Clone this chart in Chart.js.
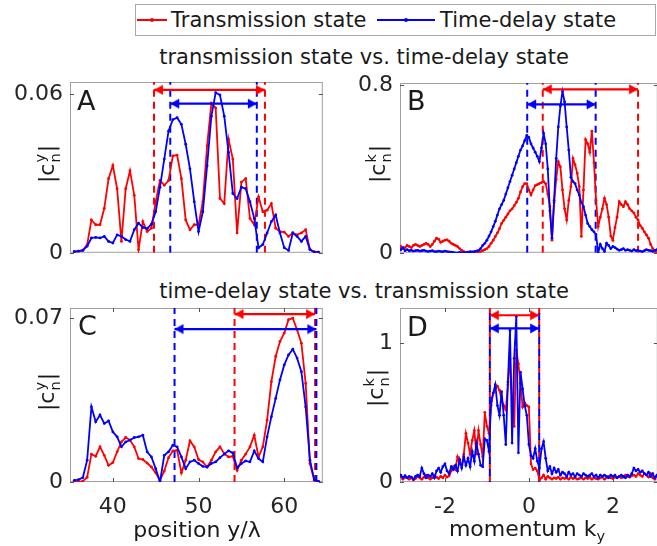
<!DOCTYPE html>
<html>
<head>
<meta charset="utf-8">
<script src="https://cdn.jsdelivr.net/npm/chart.js@4.4.1/dist/chart.umd.min.js"></script>
<style>
  body { margin: 0; background: #fff; overflow: hidden; font-family: "DejaVu Sans", sans-serif; color: #1a1a1a; }
  #fig { position: relative; width: 657px; height: 546px; overflow: hidden; }
  .cv { position: absolute; }
  .t { position: absolute; white-space: nowrap; line-height: 1; }
  .title { font-size: 21px; transform: translateX(-50%); }
  .lab { font-size: 27px; }
  .ylab { font-size: 22px; transform: translate(-50%, -50%) rotate(-90deg); }
  .xlab { font-size: 22px; transform: translateX(-50%); }
  .ss { display: inline-flex; flex-direction: column; font-size: 0.66em; line-height: 1.05; vertical-align: middle; margin: 0 1px; }
  sub { font-size: 0.66em; }
  #legend { position: absolute; left: 135px; top: 4px; width: 519px; height: 30px; border: 1px solid #a8a8a8; }
  .ln { position: absolute; height: 2px; top: 19px; }
  .dot { position: absolute; width: 4px; height: 4px; border-radius: 2px; top: 18px; }
</style>
</head>
<body>
<div id="fig">
  <div id="legend"></div>
  <div class="ln" style="left:137px;width:30px;background:#ff0000"></div>
  <div class="dot" style="left:150px;background:#ff0000"></div>
  <div class="t" style="left:171px;top:10px;font-size:21px">Transmission state</div>
  <div class="ln" style="left:377px;width:58px;background:#0000ff"></div>
  <div class="dot" style="left:404px;background:#0000ff"></div>
  <div class="t" style="left:440px;top:10px;font-size:21px">Time-delay state</div>

  <div class="t title" style="left:364px;top:47px">transmission state vs. time-delay state</div>
  <div class="t title" style="left:364px;top:281px">time-delay state vs. transmission state</div>

  <canvas id="cA" class="cv" width="330" height="188" style="left:0;top:72px"></canvas>
  <canvas id="cB" class="cv" width="335" height="188" style="left:330px;top:72px"></canvas>
  <canvas id="cC" class="cv" width="330" height="246" style="left:0;top:300px"></canvas>
  <canvas id="cD" class="cv" width="335" height="246" style="left:330px;top:300px"></canvas>

  <div class="t lab" style="left:77px;top:87px">A</div>
  <div class="t lab" style="left:407px;top:87px">B</div>
  <div class="t lab" style="left:78px;top:312px">C</div>
  <div class="t lab" style="left:407px;top:313px">D</div>

  <div class="t ylab" style="left:48px;top:164px">|c<span class="ss"><span>y</span><span>n</span></span>|</div>
  <div class="t ylab" style="left:379px;top:164px">|c<span class="ss"><span>k</span><span>n</span></span>|</div>
  <div class="t ylab" style="left:48px;top:392px">|c<span class="ss"><span>y</span><span>n</span></span>|</div>
  <div class="t ylab" style="left:377px;top:388px">|c<span class="ss"><span>k</span><span>n</span></span>|</div>

  <div class="t xlab" style="left:197px;top:519px">position y/λ</div>
  <div class="t xlab" style="left:527px;top:518px">momentum k<sub>y</sub></div>
</div>

<script>
// position grid (panels A, C) and momentum grid (panels B, D)
const posY = [35.5,36,36.5,37,37.5,38,38.5,39,39.5,40,40.5,41,41.5,42,42.5,43,43.5,44,44.5,45,
  45.5,46,46.5,47,47.5,48,48.5,49,49.5,50,50.5,51,51.5,52,52.5,53,53.5,54,54.5,55,
  55.5,56,56.5,57,57.5,58,58.5,59,59.5,60,60.5,61,61.5,62,62.5,63,63.5,64];

const ky = [-3.1,-3.05,-3,-2.95,-2.9,-2.85,-2.8,-2.75,-2.7,-2.65,
  -2.6,-2.55,-2.5,-2.45,-2.4,-2.35,-2.3,-2.25,-2.2,-2.15,
  -2.1,-2.05,-2,-1.95,-1.9,-1.85,-1.8,-1.75,-1.7,-1.65,
  -1.6,-1.55,-1.5,-1.45,-1.4,-1.35,-1.3,-1.25,-1.2,-1.15,
  -1.1,-1.05,-1,-0.95,-0.9,-0.85,-0.8,-0.75,-0.7,-0.65,
  -0.6,-0.55,-0.5,-0.45,-0.4,-0.35,-0.3,-0.25,-0.2,-0.15,
  -0.1,-0.05,0,0.05,0.1,0.15,0.2,0.25,0.3,0.35,
  0.4,0.45,0.5,0.55,0.6,0.65,0.7,0.75,0.8,0.85,
  0.9,0.95,1,1.05,1.1,1.15,1.2,1.25,1.3,1.35,
  1.4,1.45,1.5,1.55,1.6,1.65,1.7,1.75,1.8,1.85,
  1.9,1.95,2,2.05,2.1,2.15,2.2,2.25,2.3,2.35,
  2.4,2.45,2.5,2.55,2.6,2.65,2.7,2.75,2.8,2.85,
  2.9,2.95,3,3.05,3.1];

// A: transmission state vs time-delay state, |c_n^y|
const redA = [0.0004,0.0006,0.001,0.003,0.0124,0.0106,0.0106,0.0168,0.028,0.033,
  0.0242,0.0043,0.0242,0.031,0.0217,0.0012,0.0118,0.008,0.0093,0.0193,
  0.0273,0.0255,0.0273,0.0366,0.0369,0.028,0.0124,0.0087,0.0106,0.0106,
  0.0193,0.0404,0.0565,0.0547,0.0205,0.0186,0.0429,0.0354,0.0075,0.0267,
  0.028,0.013,0.0106,0.0211,0.0155,0.0161,0.0186,0.0093,0.008,0.0078,
  0.0062,0.0075,0.0068,0.0075,0.0087,0.0012,0.0004,0.0002];
const blueA = [0.0004,0.0006,0.0009,0.0025,0.0056,0.0058,0.0056,0.0062,0.0043,0.0037,
  0.0068,0.0062,0.005,0.0043,0.0087,0.0112,0.0096,0.0091,0.0108,0.0155,
  0.0248,0.0354,0.046,0.0503,0.051,0.0485,0.041,0.0317,0.0193,0.008,
  0.0155,0.0329,0.0516,0.0605,0.0596,0.0516,0.0379,0.0224,0.0205,0.0248,
  0.0242,0.0193,0.013,0.0019,0.0031,0.0075,0.0118,0.0143,0.0075,0.0019,
  0.0009,0.0075,0.0062,0.0043,0.0062,0.0012,0.0002,0.0002];

// B: |c_n^k|
const redB = [0.02,0.03,0.02,0.025,0.035,0.03,0.025,0.035,0.04,0.035,
  0.03,0.035,0.04,0.045,0.04,0.03,0.04,0.055,0.07,0.065,
  0.05,0.055,0.06,0.062,0.055,0.045,0.04,0.035,0.03,0.02,
  0.012,0.005,0.002,0,0.002,0,0.003,0.005,0.004,0.006,
  0.01,0.015,0.02,0.03,0.045,0.06,0.078,0.095,0.115,0.14,
  0.155,0.17,0.185,0.2,0.21,0.225,0.24,0.26,0.29,0.315,
  0.33,0.33,0.3,0.276,0.3,0.32,0.325,0.33,0.335,0.34,
  0.33,0.28,0.22,0.06,0.24,0.35,0.435,0.41,0.3,0.21,
  0.157,0.25,0.316,0.45,0.42,0.38,0.316,0.078,0.3,0.54,
  0.52,0.48,0.58,0.43,0.25,0.125,0.17,0.21,0.26,0.23,
  0.17,0.08,0.06,0.12,0.17,0.244,0.23,0.22,0.244,0.23,
  0.21,0.2,0.19,0.17,0.157,0.13,0.117,0.1,0.085,0.07,
  0.04,0.02,0.006,0.005,0.004];
const blueB = [0.02,0.015,0.025,0.01,0.015,0.01,0.012,0.008,0.01,0.012,
  0.008,0.01,0.012,0.008,0.006,0.008,0.01,0.006,0.005,0.008,
  0.006,0.005,0.008,0.006,0.004,0.003,0.002,0,0,0.002,
  0,0.002,0,0.003,0.005,0.004,0.006,0.008,0.012,0.02,
  0.035,0.045,0.06,0.08,0.1,0.125,0.15,0.18,0.21,0.23,
  0.25,0.28,0.31,0.34,0.37,0.4,0.43,0.46,0.49,0.51,
  0.535,0.56,0.55,0.52,0.5,0.48,0.46,0.435,0.5,0.57,
  0.52,0.4,0.2,0.07,0.25,0.45,0.6,0.7,0.77,0.72,
  0.6,0.49,0.36,0.34,0.33,0.3,0.276,0.24,0.22,0.18,
  0.14,0.125,0.11,0.1,0.086,0,0.04,0.02,0.006,0.046,
  0.035,0.02,0.03,0.025,0.018,0.012,0.015,0.02,0.012,0.015,
  0.012,0.008,0.015,0.01,0.012,0.008,0.005,0.01,0.015,0.012,
  0.01,0.006,0.012,0.015,0.02];

// C: time-delay state vs transmission state, |c_n^y|
const redC = [0,0,0.0004,0.002,0.0119,0.011,0.015,0.0114,0.0071,0.0083,
  0.0129,0.0171,0.019,0.0179,0.015,0.01,0.0096,0.0081,0.0064,0.0039,
  0.0007,0.0047,0.0104,0.0133,0.0136,0.0039,0.0093,0.0176,0.015,0.0096,
  0.0086,0.0064,0.0093,0.0129,0.015,0.0121,0.0107,0.011,0.005,0.0093,
  0.0119,0.015,0.02,0.0107,0.015,0.0264,0.0429,0.0536,0.06,0.0636,
  0.0693,0.07,0.065,0.0593,0.0421,0.0079,0.0007,0.0003];
const blueC = [0.0007,0.001,0.0019,0.0093,0.0321,0.0257,0.0286,0.025,0.0261,0.0214,
  0.0193,0.015,0.0171,0.0179,0.019,0.0193,0.02,0.0129,0.0107,0.0057,
  0,0.0114,0.0129,0.0157,0.015,0.0107,0.0057,0.0086,0.0093,0.0079,
  0.0067,0.0064,0.0079,0.0086,0.0104,0.0119,0.0133,0.0124,0.0061,0.0079,
  0.009,0.0086,0.0133,0.01,0.0086,0.0193,0.0279,0.0357,0.0436,0.05,
  0.0543,0.0567,0.0529,0.0471,0.0321,0.0093,0.001,0.0003];

// D: |c_n^k|
const redD = [0.03,0.04,0.02,0.035,0.03,0.02,0.03,0.015,0.025,0.04,
  0.03,0.02,0.035,0.05,0.03,0.02,0.03,0.045,0.035,0.025,
  0.04,0.03,0.05,0.035,0.045,0.08,0.11,0.09,0.18,0.13,
  0.12,0.2,0.35,0.28,0.2,0.3,0.37,0.2,0.37,0.27,
  0.18,0.5,0.4,0.35,0.55,0.64,0.67,0.69,0.66,0.59,
  0.55,0.52,0.7,0.88,0.6,0.4,0.95,0.85,0.71,0.54,
  0.57,0.55,0.54,0.13,0.09,0.1,0.08,0.015,0.03,0.05,
  0.02,0.04,0.03,0.02,0.03,0.025,0.035,0.02,0.03,0.025,
  0.03,0.02,0.035,0.025,0.03,0.02,0.025,0.03,0.02,0.03,
  0.025,0.035,0.02,0.03,0.025,0.02,0.03,0.035,0.02,0.03,
  0.04,0.03,0.025,0.035,0.03,0.04,0.03,0.035,0.05,0.04,
  0.035,0.045,0.05,0.04,0.06,0.05,0.04,0.06,0.05,0.035,
  0.06,0.03,0.02,0.045,0.03];
const blueD = [0.04,0.05,0.03,0.045,0.03,0.04,0.035,0.02,0.04,0.05,
  0.04,0.1,0.06,0.03,0.05,0.04,0.06,0.03,0.08,0.1,
  0.07,0.11,0.13,0.08,0.06,0.11,0.09,0.12,0.08,0.16,
  0.1,0.18,0.12,0.17,0.11,0.22,0.15,0.28,0.2,0.12,
  0.11,0.31,0.3,0.22,0.58,0.64,0.7,0.55,0.48,0.65,
  0.48,0.27,0.72,1.09,0.28,0.89,1.19,0.21,0.79,0.67,
  0.55,0.48,0.27,0.19,0.17,0.24,0.15,0.1,0.24,0.29,
  0.17,0.08,0.11,0.06,0.1,0.07,0.09,0.05,0.07,0.06,
  0.04,0.07,0.05,0.06,0.04,0.06,0.05,0.04,0.06,0.05,
  0.04,0.05,0.06,0.04,0.05,0.03,0.05,0.04,0.05,0.04,
  0.03,0.05,0.04,0.05,0.03,0.04,0.05,0.04,0.03,0.05,
  0.04,0.06,0.1,0.08,0.09,0.07,0.08,0.06,0.05,0.07,
  0.04,0.06,0.03,0.05,0.04];

// region edges (dashed lines) and arrow levels [red, blue]
const redEdgesA = [44.8, 57.75], blueEdgesA = [46.7, 56.8], arrowsA = [0.0615, 0.0563];
const redEdgesB = [0.33, 2.6], blueEdgesB = [-0.04, 1.59], arrowsB = [0.78, 0.708];
const redEdgesC = [54.2, 63.6], blueEdgesC = [47.2, 63.75], arrowsC = [0.0717, 0.0653];
const redEdgesD = [-0.93, 0.245], blueEdgesD = [-0.93, 0.245], arrowsD = [1.2, 1.105];

// tick labels
const yTicksA = [0, 0.06], yTicksB = [0, 0.8], yTicksC = [0, 0.07], yTicksD = [0, 1];
const xTicksC = [40, 50, 60], xTicksD = [-2, 0, 2];

const RED = '#ff0000', BLUE = '#0000ff';
Chart.defaults.font.family = 'DejaVu Sans';

function xy(xs, ys) { return xs.map((x, i) => ({ x: x, y: ys[i] })); }

// arrow head with its tip at the centre of the image, pointing right
function head(color) {
  const c = document.createElement('canvas');
  c.width = 20; c.height = 11;
  const g = c.getContext('2d');
  g.fillStyle = color;
  g.beginPath(); g.moveTo(10, 5.5); g.lineTo(1, 0.5); g.lineTo(1, 10.5); g.closePath(); g.fill();
  return c;
}
const headRed = head(RED), headBlue = head(BLUE);

function series(xs, ys, color, order) {
  return { data: xy(xs, ys), borderColor: color, backgroundColor: color, borderWidth: 1.8,
    pointRadius: 1.4, pointBorderWidth: 0, pointBackgroundColor: color, order: order };
}
function vline(x, top, color, off) {
  return { data: [{ x: x, y: 0 }, { x: x, y: top }], borderColor: color, borderWidth: 2,
    borderDash: [7, 5], borderDashOffset: off, pointRadius: 0, order: 5 };
}
function arrow(edges, h, color, img) {
  return { data: [{ x: edges[0], y: h }, { x: edges[1], y: h }], borderColor: color, borderWidth: 2.2,
    pointStyle: img, pointRadius: 5, pointRotation: [180, 0], order: 0 };
}

const boxPlugin = {
  id: 'box',
  beforeDatasetsDraw(chart) {
    const { ctx, chartArea: a, scales } = chart;
    ctx.save();
    ctx.strokeStyle = '#a0a0a0';
    ctx.lineWidth = 1;
    ctx.strokeRect(a.left + 0.5, a.top + 0.5, a.right - a.left - 1, a.bottom - a.top - 1);
    ctx.strokeStyle = '#555';
    ctx.beginPath();
    scales.y.ticks.forEach(t => {
      const py = Math.round(scales.y.getPixelForValue(t.value)) + 0.5;
      ctx.moveTo(a.left, py); ctx.lineTo(a.left + 4, py);
      ctx.moveTo(a.right, py); ctx.lineTo(a.right - 4, py);
    });
    if (scales.x.options.display) {
      scales.x.ticks.forEach(t => {
        const px = Math.round(scales.x.getPixelForValue(t.value)) + 0.5;
        ctx.moveTo(px, a.bottom); ctx.lineTo(px, a.bottom - 4);
        ctx.moveTo(px, a.top); ctx.lineTo(px, a.top + 4);
      });
    }
    ctx.stroke();
    ctx.restore();
  }
};

function panel(id, xs, red, blue, o) {
  const datasets = [
    arrow(o.redEdges, o.arrows[0], RED, headRed),
    arrow(o.blueEdges, o.arrows[1], BLUE, headBlue),
    series(xs, blue, BLUE, 1),
    series(xs, red, RED, 2),
    vline(o.blueEdges[0], o.ymax, BLUE, o.blueOff),
    vline(o.blueEdges[1], o.ymax, BLUE, o.blueOff),
    vline(o.redEdges[0], o.ymax, RED, 0),
    vline(o.redEdges[1], o.ymax, RED, 0)
  ];
  const tickFont = { family: 'DejaVu Sans', size: 22 };
  new Chart(document.getElementById(id), {
    type: 'line',
    data: { datasets: datasets },
    plugins: [boxPlugin],
    options: {
      responsive: false,
      animation: false,
      devicePixelRatio: 1,
      layout: { padding: o.pad },
      plugins: { legend: { display: false }, tooltip: { enabled: false } },
      scales: {
        x: {
          type: 'linear', min: o.xmin, max: o.xmax, display: !!o.xTicks,
          grid: { display: false, drawTicks: false }, border: { display: false },
          afterBuildTicks: s => { if (o.xTicks) s.ticks = o.xTicks.map(v => ({ value: v })); },
          afterFit: s => { s.height = o.xTicks ? 40 : 0; s.paddingLeft = 0; s.paddingRight = 0; },
          ticks: { font: tickFont, color: '#262626', padding: 12, maxRotation: 0, autoSkip: false }
        },
        y: {
          type: 'linear', min: 0, max: o.ymax,
          grid: { display: false, drawTicks: false }, border: { display: false },
          afterBuildTicks: s => { s.ticks = o.yTicks.map(v => ({ value: v })); },
          afterFit: s => { s.width = 70; s.paddingTop = 0; s.paddingBottom = 0; },
          ticks: { font: tickFont, color: '#262626', padding: 7, callback: v => String(v) }
        }
      }
    }
  });
}

panel('cA', posY, redA, blueA, { xmin: 35, xmax: 64.5, ymax: 0.0645, yTicks: yTicksA,
  redEdges: redEdgesA, blueEdges: blueEdgesA, arrows: arrowsA, blueOff: 0,
  pad: { top: 10, bottom: 5, right: 6, left: 0 } });
panel('cB', ky, redB, blueB, { xmin: -3.07, xmax: 3.07, ymax: 0.81, yTicks: yTicksB,
  redEdges: redEdgesB, blueEdges: blueEdgesB, arrows: arrowsB, blueOff: 0,
  pad: { top: 11, bottom: 7, right: 7, left: 0 } });
panel('cC', posY, redC, blueC, { xmin: 35, xmax: 64.5, ymax: 0.0743, yTicks: yTicksC, xTicks: xTicksC,
  redEdges: redEdgesC, blueEdges: blueEdgesC, arrows: arrowsC, blueOff: 0,
  pad: { top: 8, bottom: 24, right: 6, left: 0 } });
panel('cD', ky, redD, blueD, { xmin: -3.07, xmax: 3.07, ymax: 1.252, yTicks: yTicksD, xTicks: xTicksD,
  redEdges: redEdgesD, blueEdges: blueEdgesD, arrows: arrowsD, blueOff: 6,
  pad: { top: 8, bottom: 24, right: 7, left: 0 } });
</script>
</body>
</html>
